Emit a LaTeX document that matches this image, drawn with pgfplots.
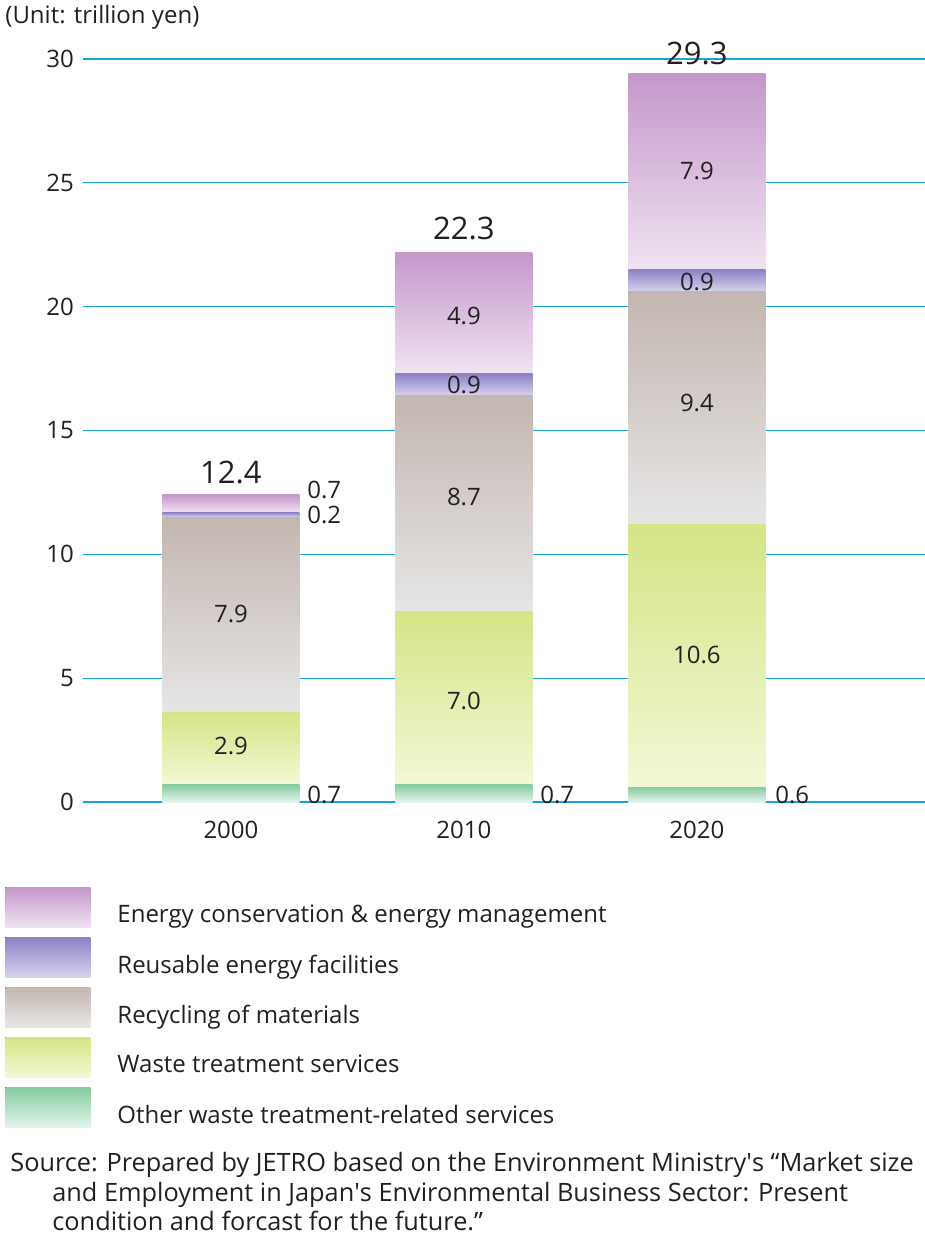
\documentclass[border=0pt]{standalone}
\usepackage{pgfplots}
\pgfplotsset{compat=1.18}
\usepackage{fontspec}
\setmainfont{Open Sans}
\definecolor{energyTop}{HTML}{C597CB}
\definecolor{energyBot}{HTML}{EFE3F1}
\definecolor{reuseTop}{HTML}{8B82C6}
\definecolor{reuseBot}{HTML}{D8D4ED}
\definecolor{recycTop}{HTML}{C3B6B0}
\definecolor{recycBot}{HTML}{E6E6E6}
\definecolor{wasteTop}{HTML}{D3E586}
\definecolor{wasteBot}{HTML}{F2F8D6}
\definecolor{otherTop}{HTML}{86CBA0}
\definecolor{otherBot}{HTML}{E4F4EC}
\definecolor{gridc}{HTML}{1BA3D3}
\definecolor{txt}{HTML}{231F20}
\tikzset{
  lab/.style={font=\fontsize{12}{14}\selectfont, text=txt, inner sep=0pt},
  tot/.style={font=\fontsize{15.5}{18}\selectfont, text=txt, inner sep=0pt},
}
\pgfplotsset{
  base/.style={at={(0,0)}, anchor=south west, scale only axis,
    width=421pt, height=371.5pt, xmin=-0.635, xmax=2.979, ymin=0, ymax=30,
    clip=false},
  bars/.style={base, hide axis, ybar stacked, bar width=68.5pt},
  sEnergy/.style={draw=none, top color=energyTop, bottom color=energyBot},
  sReuse/.style={draw=none, top color=reuseTop, bottom color=reuseBot},
  sRecyc/.style={draw=none, top color=recycTop, bottom color=recycBot},
  sWaste/.style={draw=none, top color=wasteTop, bottom color=wasteBot},
  sOther/.style={draw=none, top color=otherTop, bottom color=otherBot},
}
\begin{document}
\begin{tikzpicture}
\useasboundingbox (-41.5pt,-217.5pt) rectangle (421pt,401pt);
% grid axis
\begin{axis}[base,
  axis line style={draw=none}, major tick length=0pt,
  ytick={0,5,...,30}, ymajorgrids, grid style={color=gridc, line width=0.65pt},
  xtick={0,1,2}, xticklabels={2000,2010,2020},
  /pgf/number format/assume math mode=true,
  ticklabel style={font=\fontsize{12}{14}\selectfont, text=txt},
  yticklabel style={xshift=-1pt},
  xticklabel style={yshift=-6pt},
]
\addplot[draw=none, forget plot] coordinates {(0,0)};
\end{axis}
% 2000
\begin{axis}[bars,
  area legend, reverse legend,
  legend image code/.code={\fill[#1] (0pt,-6pt) rectangle (42.5pt,14pt);},
  legend cell align=left,
  legend style={at={(-0.0926,-0.1144)}, anchor=north west, draw=none, fill=none,
    inner sep=0pt, row sep=5pt, font=\fontsize{12}{14}\selectfont,
    nodes={inner sep=0pt, text=txt},
    /tikz/every odd column/.style={column sep=13.5pt}},
]
\addplot[sOther] coordinates {(0,0.7)};
\addlegendentry{Other waste treatment-related services}
\addplot[sWaste] coordinates {(0,2.9)};
\addlegendentry{Waste treatment services}
\addplot[sRecyc] coordinates {(0,7.9)};
\addlegendentry{Recycling of materials}
\addplot[sReuse] coordinates {(0,0.2)};
\addlegendentry{Reusable energy facilities}
\addplot[sEnergy] coordinates {(0,0.7)};
\addlegendentry{Energy conservation \& energy management}
\end{axis}
% 2010
\begin{axis}[bars]
\addplot[sOther] coordinates {(1,0.7)};
\addplot[sWaste] coordinates {(1,7.0)};
\addplot[sRecyc] coordinates {(1,8.7)};
\addplot[sReuse] coordinates {(1,0.9)};
\addplot[sEnergy] coordinates {(1,4.9)};
\end{axis}
% 2020
\begin{axis}[bars]
\addplot[sOther] coordinates {(2,0.6)};
\addplot[sWaste] coordinates {(2,10.6)};
\addplot[sRecyc] coordinates {(2,9.4)};
\addplot[sReuse] coordinates {(2,0.9)};
\addplot[sEnergy] coordinates {(2,7.9)};
\end{axis}
% value labels
\begin{axis}[base, hide axis]
\addplot[draw=none, forget plot] coordinates {(0,0)};
\node[lab] at (axis cs:0,7.59) {7.9};
\node[lab] at (axis cs:0,2.26) {2.9};
\node[lab, anchor=west] at (axis cs:0.326,12.6) {0.7};
\node[lab, anchor=west] at (axis cs:0.326,11.59) {0.2};
\node[lab, anchor=west] at (axis cs:0.326,0.28) {0.7};
\node[tot] at (axis cs:0,13.32) {12.4};
\node[lab] at (axis cs:1,19.62) {4.9};
\node[lab] at (axis cs:1,16.84) {0.9};
\node[lab] at (axis cs:1,12.31) {8.7};
\node[lab] at (axis cs:1,4.08) {7.0};
\node[lab, anchor=west] at (axis cs:1.326,0.28) {0.7};
\node[tot] at (axis cs:1,23.14) {22.3};
\node[lab] at (axis cs:2,25.48) {7.9};
\node[lab] at (axis cs:2,21.0) {0.9};
\node[lab] at (axis cs:2,16.11) {9.4};
\node[lab] at (axis cs:2,5.94) {10.6};
\node[lab, anchor=west] at (axis cs:2.335,0.28) {0.6};
\node[tot] at (axis cs:2,30.24) {29.3};
\end{axis}
\node[anchor=west, inner sep=0pt, text=txt, font=\fontsize{12}{14}\selectfont] at (-39pt,392.5pt) {(Unit: trillion yen)};
\node[anchor=north west, inner sep=0pt, text=txt, align=left,
  font=\fontsize{12.65}{14.75}\selectfont] at (-36.5pt,-175pt)
  {Source: Prepared by JETRO based on the Environment Ministry\textquotesingle s “Market size\\
  \hspace*{21pt}and Employment in Japan\textquotesingle s Environmental Business Sector: Present\\
  \hspace*{21pt}condition and forcast for the future.”};
\end{tikzpicture}
\end{document}
